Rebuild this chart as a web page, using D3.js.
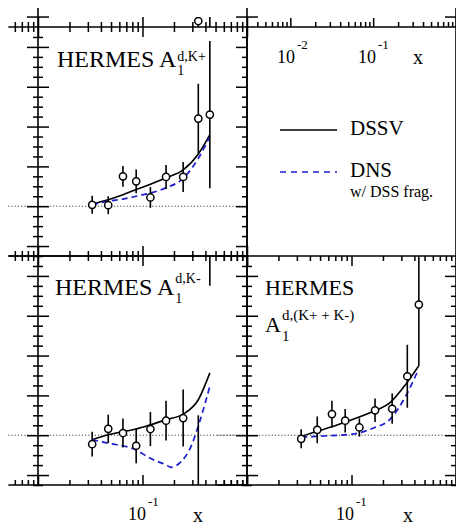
<!DOCTYPE html>
<html><head><meta charset="utf-8">
<script src="https://cdn.jsdelivr.net/npm/d3@7"></script>
<style>body{margin:0;background:#fff}svg{display:block}</style>
</head><body>
<script>
// HERMES kaon x bins
const xBins = [0.033, 0.047, 0.065, 0.087, 0.119, 0.168, 0.245, 0.342, 0.441];

// A1^{d,K+}
const kPlusVal = [0.007, 0.005, 0.150, 0.125, 0.044, 0.147, 0.147, 0.440, 0.460];
const kPlusErr = [0.045, 0.045, 0.052, 0.060, 0.052, 0.060, 0.075, 0.175, 0.370];
// A1^{d,K-}
const kMinusVal = [-0.045, 0.032, 0.011, -0.053, 0.031, 0.073, 0.086, -0.32, 1.10];
const kMinusErr = [0.062, 0.071, 0.073, 0.088, 0.086, 0.100, 0.143, 0.42, 0.35];
// A1^{d,(K+ + K-)}
const kSumVal = [-0.018, 0.027, 0.106, 0.073, 0.039, 0.125, 0.133, 0.296, 0.656];
const kSumErr = [0.048, 0.067, 0.067, 0.059, 0.046, 0.059, 0.076, 0.158, 0.310];

// DSSV and DNS predictions
const dssvKPlusX = [0.033, 0.047, 0.065, 0.087, 0.119, 0.168, 0.245, 0.342, 0.441];
const dssvKPlusY = [0.012, 0.033, 0.058, 0.084, 0.110, 0.143, 0.182, 0.262, 0.360];
const dnsKPlusX  = [0.033, 0.047, 0.065, 0.087, 0.119, 0.168, 0.245, 0.342, 0.441];
const dnsKPlusY  = [0.008, 0.025, 0.036, 0.050, 0.066, 0.092, 0.140, 0.240, 0.350];

const dssvKMinusX = [0.033, 0.047, 0.065, 0.087, 0.119, 0.168, 0.245, 0.342, 0.441];
const dssvKMinusY = [-0.023, 0.002, 0.018, 0.031, 0.052, 0.078, 0.106, 0.178, 0.313];
const dnsKMinusX  = [0.033, 0.047, 0.087, 0.119, 0.168, 0.188, 0.234, 0.291, 0.349, 0.441];
const dnsKMinusY  = [-0.023, -0.040, -0.074, -0.116, -0.149, -0.161, -0.133, -0.057, 0.061, 0.246];

const dssvSumX = [0.033, 0.046, 0.065, 0.085, 0.162, 0.232, 0.329, 0.437];
const dssvSumY = [-0.006, 0.019, 0.042, 0.064, 0.120, 0.162, 0.254, 0.346];
const dnsSumX  = [0.033, 0.046, 0.085, 0.115, 0.162, 0.232, 0.329, 0.437];
const dnsSumY  = [-0.010, -0.006, 0.002, 0.010, 0.036, 0.078, 0.195, 0.330];

// neighbouring panel above (only its lower edge is in view)
const upperX   = [0.342, 0.441];
const upperVal = [-0.22, -0.10];
const upperErr = [0.12, 0.30];

// axis ticks
const xMajorTicks = [0.01, 0.1, 1];
const xMinorTicks = [0.006, 0.007, 0.008, 0.009,
  0.02, 0.03, 0.04, 0.05, 0.06, 0.07, 0.08, 0.09,
  0.2, 0.3, 0.4, 0.5, 0.6, 0.7, 0.8, 0.9];
const xWideMajor = [0.01, 0.1, 1];
const xWideMinor = [0.004, 0.005, 0.006, 0.007, 0.008, 0.009,
  0.02, 0.03, 0.04, 0.05, 0.06, 0.07, 0.08, 0.09,
  0.2, 0.3, 0.4, 0.5, 0.6, 0.7, 0.8, 0.9];
const yMajorTicks = [-0.2, 0, 0.2, 0.4, 0.6, 0.8];
const yMinorTicks = [-0.25, -0.15, -0.1, -0.05, 0.05, 0.1, 0.15, 0.25, 0.3, 0.35,
  0.45, 0.5, 0.55, 0.65, 0.7, 0.75, 0.85];

const W = 456, H = 525;
const colX = [38, 247], colW = 209;
const rowEdges = [27, 256, 485];
const yDomain = [-0.25, 0.9];
const FONT = "'Liberation Serif','Times New Roman',serif";
const BLUE = "#1c1cd0";

const svg = d3.select("body").append("svg").attr("width", W).attr("height", H);
svg.append("rect").attr("width", W).attr("height", H).attr("fill", "#fff");
const defs = svg.append("defs");

const xScale = col => d3.scaleLog().domain([0.01, 1]).range([colX[col], colX[col] + colW]);
const yScale = (top, bottom) => d3.scaleLinear().domain(yDomain).range([bottom, top]);

let clipId = 0;
function clip(x0, y0, w, h) {
  const id = "clip" + (clipId++);
  defs.append("clipPath").attr("id", id).append("rect")
    .attr("x", x0).attr("y", y0).attr("width", w).attr("height", h);
  return `url(#${id})`;
}

function styleTicks(sel) {
  sel.select(".domain").remove();
  sel.selectAll("line").attr("stroke", "#000").attr("stroke-width", 1.5);
}
// horizontal axis ticks; dir = 1 draws downward, -1 upward
function hTicks(x, y, dir, majors, minors, majLen = 10, minLen = 5) {
  svg.append("g").attr("transform", `translate(0,${y})`)
    .call(d3.axisBottom(x).tickValues(minors).tickSize(dir * minLen).tickSizeOuter(0).tickFormat(""))
    .call(styleTicks);
  svg.append("g").attr("transform", `translate(0,${y})`)
    .call(d3.axisBottom(x).tickValues(majors).tickSize(dir * majLen).tickSizeOuter(0).tickFormat(""))
    .call(styleTicks);
}
// vertical axis ticks; dir = 1 draws rightward, -1 leftward
function vTicks(y, x, dir, majLen = 11, minLen = 5) {
  svg.append("g").attr("transform", `translate(${x},0)`)
    .call(d3.axisRight(y).tickValues(yMinorTicks).tickSize(dir * minLen).tickSizeOuter(0).tickFormat(""))
    .call(styleTicks);
  svg.append("g").attr("transform", `translate(${x},0)`)
    .call(d3.axisRight(y).tickValues(yMajorTicks).tickSize(dir * majLen).tickSizeOuter(0).tickFormat(""))
    .call(styleTicks);
}
function hLine(x1, x2, y, w = 1.6) {
  svg.append("line").attr("x1", x1).attr("x2", x2).attr("y1", y).attr("y2", y)
    .attr("stroke", "#000").attr("stroke-width", w);
}
function vLine(x, y1, y2, w = 1.6) {
  svg.append("line").attr("x1", x).attr("x2", x).attr("y1", y1).attr("y2", y2)
    .attr("stroke", "#000").attr("stroke-width", w);
}

function drawPoints(g, x, y, xs, vals, errs) {
  const pts = xs.map((d, i) => ({x: d, v: vals[i], e: errs[i]}));
  g.selectAll(null).data(pts).enter().append("line")
    .attr("x1", d => x(d.x)).attr("x2", d => x(d.x))
    .attr("y1", d => y(d.v - d.e)).attr("y2", d => y(d.v + d.e))
    .attr("stroke", "#000").attr("stroke-width", 1.6);
  g.selectAll(null).data(pts).enter().append("circle")
    .attr("cx", d => x(d.x)).attr("cy", d => y(d.v)).attr("r", 3.6)
    .attr("fill", "#fff").attr("stroke", "#000").attr("stroke-width", 1.5);
}
function drawCurve(g, x, y, xs, ys, dashed) {
  const line = d3.line().x(d => x(d[0])).y(d => y(d[1])).curve(d3.curveMonotoneX);
  g.append("path").datum(xs.map((d, i) => [d, ys[i]])).attr("d", line)
    .attr("fill", "none")
    .attr("stroke", dashed ? BLUE : "#000")
    .attr("stroke-width", dashed ? 1.7 : 1.6)
    .attr("stroke-dasharray", dashed ? "6,4" : null);
}

function dataPanel(col, row, set) {
  const top = rowEdges[row], bottom = rowEdges[row + 1];
  const x = xScale(col), y = yScale(top, bottom);
  const x0 = colX[col], x1 = colX[col] + colW;
  // zero line
  svg.append("line").attr("x1", x(0.0052)).attr("x2", col === 0 && row === 0 ? x1 : x1)
    .attr("y1", y(0)).attr("y2", y(0))
    .attr("stroke", "#444").attr("stroke-width", 1).attr("stroke-dasharray", "1.2,2");
  const g = svg.append("g").attr("clip-path", clip(x0, top, colW, bottom - top));
  drawCurve(g, x, y, set.dssvX, set.dssvY, false);
  drawCurve(g, x, y, set.dnsX, set.dnsY, true);
  drawPoints(g, x, y, xBins, set.val, set.err);
  // frame with extended horizontal axes
  hLine(x(0.0052), x1, top);
  hLine(x(0.0052), x1, bottom);
  vLine(x0, top, bottom);
  vLine(x1, top, bottom);
  hTicks(x, top, 1, xMajorTicks, xMinorTicks);
  hTicks(x, bottom, -1, xMajorTicks, xMinorTicks);
  vTicks(y, x0, 1);
  vTicks(y, x1, -1);
  if (col === 0) vTicks(y, x0, -1);
}

// lower edge of the panels above
{
  const top = rowEdges[0] - 229, bottom = rowEdges[0];
  const yU = yScale(top, bottom);
  const xL = xScale(0);
  const g = svg.append("g").attr("clip-path", clip(colX[0], 17, colW, 10));
  drawPoints(g, xL, yU, upperX, upperVal, upperErr);
  const axisClip = clip(0, 8, W, 20);
  const ga = svg.append("g").attr("clip-path", axisClip);
  [colX[0], colX[1], colX[1] + colW].forEach(xx => {
    ga.append("line").attr("x1", xx).attr("x2", xx).attr("y1", 8).attr("y2", bottom)
      .attr("stroke", "#000").attr("stroke-width", 1.6);
  });
  // y tick at -0.2 on the verticals
  [colX[0], colX[1]].forEach(xx => {
    ga.append("line").attr("x1", xx - 11).attr("x2", xx + 11).attr("y1", yU(-0.2)).attr("y2", yU(-0.2))
      .attr("stroke", "#000").attr("stroke-width", 1.5);
  });
  ga.append("line").attr("x1", colX[1] + colW - 11).attr("x2", colX[1] + colW)
    .attr("y1", yU(-0.2)).attr("y2", yU(-0.2)).attr("stroke", "#000").attr("stroke-width", 1.5);
  // bottom ticks of the upper panels
  hTicks(xL, bottom, -1, xMajorTicks, xMinorTicks);
  const xWide = d3.scaleLog().domain([0.003, 1]).range([colX[1], colX[1] + colW]);
  hTicks(xWide, bottom, -1, xWideMajor, xWideMinor, 9, 5);
  hLine(colX[1], colX[1] + colW, bottom);
}

dataPanel(0, 0, {val: kPlusVal, err: kPlusErr,
  dssvX: dssvKPlusX, dssvY: dssvKPlusY, dnsX: dnsKPlusX, dnsY: dnsKPlusY});
dataPanel(0, 1, {val: kMinusVal, err: kMinusErr,
  dssvX: dssvKMinusX, dssvY: dssvKMinusY, dnsX: dnsKMinusX, dnsY: dnsKMinusY});
dataPanel(1, 1, {val: kSumVal, err: kSumErr,
  dssvX: dssvSumX, dssvY: dssvSumY, dnsX: dnsSumX, dnsY: dnsSumY});

// legend panel frame
vLine(colX[1], rowEdges[0], rowEdges[1]);
vLine(colX[1] + colW, rowEdges[0], rowEdges[1]);

// text helpers
function txt(x, y, s, size, anchor = "start") {
  return svg.append("text").attr("x", x).attr("y", y).attr("font-family", FONT)
    .attr("font-size", size).attr("fill", "#000").attr("text-anchor", anchor).text(s);
}
function title(x, y, main, sup, supDy, subDy, size, subSize) {
  const t = txt(x, y, main, size);
  const w = t.node().getComputedTextLength();
  txt(x + w + 1, y + supDy, sup, subSize);
  txt(x + w + 1, y + subDy, "1", subSize);
}
title(57, 67, "HERMES A", "d,K+", -6, 8, 24, 14);
title(55, 295, "HERMES A", "d,K-", -12, 8, 24, 14);
txt(265, 295, "HERMES", 22);
title(265, 332, "A", "d,(K+ + K-)", -12, 9, 22, 15);

// legend
svg.append("line").attr("x1", 280).attr("x2", 337).attr("y1", 130).attr("y2", 130)
  .attr("stroke", "#000").attr("stroke-width", 1.6);
svg.append("line").attr("x1", 280).attr("x2", 337).attr("y1", 172).attr("y2", 172)
  .attr("stroke", BLUE).attr("stroke-width", 1.6).attr("stroke-dasharray", "6,5");
txt(350, 135, "DSSV", 21);
txt(350, 177, "DNS", 21);
txt(350, 197, "w/ DSS frag.", 16);

// axis labels
function decadeLabel(x, y, exp) {
  txt(x, y, "10", 18);
  txt(x + 20, y - 14, exp, 13);
}
decadeLabel(277, 63, "-2");
decadeLabel(358, 63, "-1");
txt(413, 64, "x", 20);
decadeLabel(128, 520, "-1");
txt(193, 522, "x", 20);
decadeLabel(336, 520, "-1");
txt(403, 522, "x", 20);
</script>
</body></html>
